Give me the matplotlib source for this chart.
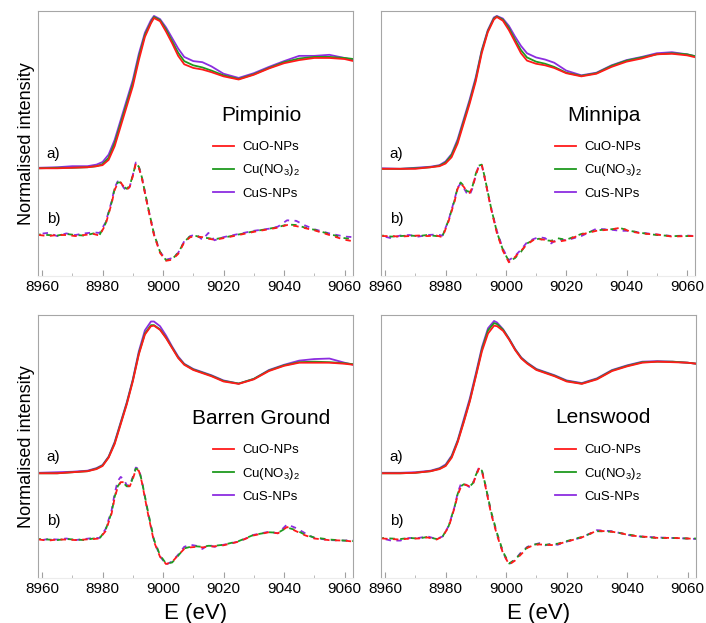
import matplotlib
matplotlib.use("Agg")
import matplotlib.pyplot as plt
from matplotlib.ticker import MultipleLocator

plt.rcParams['font.family'] = ['Liberation Sans', 'DejaVu Sans']
plt.rcParams['mathtext.default'] = 'regular'

# energy grids (eV)
e_a = [8959, 8965, 8970, 8975, 8978, 8980, 8982, 8984, 8986, 8988, 8990, 8992, 8994, 8996, 8997,
       8999, 9001, 9003, 9005, 9007, 9010, 9013, 9016, 9020, 9025, 9030, 9035, 9040, 9045, 9050,
       9055, 9060, 9063]
e_b = [8959, 8962, 8965, 8968, 8971, 8974, 8977, 8979, 8981, 8983, 8984, 8985, 8986, 8987, 8988,
       8989, 8990, 8991, 8992, 8993, 8995, 8997, 8999, 9001, 9003, 9005, 9007, 9009, 9011, 9013,
       9015, 9017, 9020, 9025, 9030, 9035, 9038, 9041, 9044, 9047, 9050, 9055, 9060, 9063]

sites = ["Pimpinio", "Minnipa", "Barren Ground", "Lenswood"]
series_names = ["CuO-NPs", "Cu(NO$_3$)$_2$", "CuS-NPs"]

# a) normalised XANES, b) first derivative  (CuO, Cu(NO3)2, CuS)
pim_cuo_a = [0, 0, 0.005, 0.01, 0.02, 0.03, 0.08, 0.21, 0.40, 0.59, 0.78, 1.03, 1.25, 1.38, 1.43, 1.40, 1.30,
             1.19, 1.07, 0.99, 0.955, 0.94, 0.915, 0.875, 0.845, 0.89, 0.95, 1.00, 1.03, 1.05, 1.05, 1.04, 1.02]
pim_cuno3_a = [0, 0.005, 0.005, 0.01, 0.02, 0.04, 0.10, 0.24, 0.43, 0.62, 0.81, 1.06, 1.27, 1.39, 1.44, 1.41, 1.32,
               1.21, 1.10, 1.02, 0.98, 0.96, 0.93, 0.885, 0.85, 0.895, 0.955, 1.01, 1.045, 1.06, 1.06, 1.05, 1.04]
pim_cus_a = [0.005, 0.01, 0.02, 0.02, 0.035, 0.06, 0.13, 0.27, 0.46, 0.65, 0.84, 1.09, 1.29, 1.41, 1.45, 1.42, 1.34,
             1.24, 1.14, 1.06, 1.02, 1.01, 0.97, 0.90, 0.86, 0.905, 0.965, 1.02, 1.07, 1.07, 1.08, 1.05, 1.03]
pim_cuo_b = [0.0, -0.01, 0.0, 0.0, -0.01, 0.0, 0.01, -0.005, 0.10, 0.30, 0.43, 0.49, 0.50, 0.46, 0.43, 0.46, 0.56,
             0.68, 0.64, 0.54, 0.26, 0.0, -0.17, -0.245, -0.235, -0.18, -0.07, -0.02, -0.015, -0.02, -0.035, -0.045,
             -0.03, 0.0, 0.03, 0.055, 0.07, 0.095, 0.085, 0.065, 0.045, 0.0, -0.045, -0.06]
pim_cuno3_b = [0.005, 0.0, -0.005, 0.01, 0.0, -0.005, 0.015, 0.0, 0.11, 0.31, 0.44, 0.50, 0.50, 0.46, 0.44, 0.47, 0.57,
               0.68, 0.65, 0.55, 0.27, 0.01, -0.16, -0.24, -0.23, -0.17, -0.065, -0.01, -0.01, -0.025, -0.03, -0.04,
               -0.025, 0.005, 0.035, 0.06, 0.075, 0.10, 0.095, 0.07, 0.05, 0.01, -0.03, -0.04]
pim_cus_b = [0.01, 0.02, -0.01, 0.015, 0.0, 0.015, 0.025, 0.02, 0.12, 0.32, 0.45, 0.51, 0.50, 0.45, 0.42, 0.46, 0.57,
             0.69, 0.65, 0.55, 0.27, 0.01, -0.16, -0.235, -0.22, -0.17, -0.06, -0.01, 0.005, -0.045, 0.02, -0.05,
             -0.02, 0.01, 0.04, 0.06, 0.08, 0.14, 0.135, 0.09, 0.055, 0.015, -0.015, -0.02]

min_cuo_a = [0, 0, 0, 0.015, 0.025, 0.05, 0.11, 0.24, 0.43, 0.62, 0.83, 1.10, 1.30, 1.42, 1.445, 1.41, 1.32,
             1.21, 1.10, 1.03, 1.00, 0.985, 0.96, 0.91, 0.88, 0.905, 0.97, 1.02, 1.05, 1.09, 1.095, 1.08, 1.06]
min_cuno3_a = [0, 0, 0.005, 0.015, 0.03, 0.06, 0.13, 0.26, 0.45, 0.64, 0.85, 1.12, 1.31, 1.43, 1.45, 1.42, 1.34,
               1.23, 1.13, 1.06, 1.02, 1.0, 0.97, 0.915, 0.885, 0.91, 0.98, 1.03, 1.06, 1.09, 1.10, 1.09, 1.07]
min_cus_a = [0.005, 0.0, 0.01, 0.02, 0.035, 0.07, 0.14, 0.28, 0.47, 0.66, 0.87, 1.13, 1.32, 1.44, 1.455, 1.43, 1.36,
             1.26, 1.17, 1.10, 1.06, 1.04, 1.01, 0.935, 0.89, 0.915, 0.985, 1.035, 1.065, 1.10, 1.11, 1.09, 1.07]
min_cuo_b = [0.0, 0.0, -0.005, 0.0, 0.005, 0.0, 0.005, -0.01, 0.14, 0.33, 0.45, 0.50, 0.47, 0.43, 0.41, 0.47, 0.58,
             0.66, 0.68, 0.55, 0.27, 0.03, -0.14, -0.25, -0.20, -0.14, -0.08, -0.04, -0.03, -0.035, -0.05, -0.055,
             -0.04, 0.015, 0.05, 0.063, 0.08, 0.045, 0.03, 0.02, 0.015, -0.005, 0.0, 0.0]
min_cuno3_b = [0.005, -0.005, 0.0, 0.005, 0.0, 0.01, 0.0, 0.0, 0.15, 0.34, 0.46, 0.51, 0.48, 0.43, 0.42, 0.48, 0.59,
               0.67, 0.68, 0.56, 0.28, 0.04, -0.13, -0.24, -0.21, -0.15, -0.07, -0.04, -0.025, -0.04, -0.045, -0.02,
               -0.035, 0.02, 0.055, 0.065, 0.075, 0.05, 0.035, 0.02, 0.01, 0.0, 0.0, 0.0]
min_cus_b = [0.0, -0.02, 0.005, 0.01, -0.005, 0.01, 0.015, 0.005, 0.15, 0.35, 0.46, 0.50, 0.46, 0.41, 0.39, 0.46, 0.58,
             0.67, 0.68, 0.55, 0.28, 0.05, -0.12, -0.23, -0.19, -0.13, -0.06, -0.03, -0.01, -0.02, -0.07, -0.03,
             -0.04, 0.0, 0.07, 0.06, 0.05, 0.05, 0.035, 0.025, 0.015, 0.0, 0.005, 0.0]

bar_cuo_a = [0, 0.0, 0.01, 0.02, 0.04, 0.07, 0.15, 0.28, 0.47, 0.66, 0.88, 1.14, 1.33, 1.41, 1.415, 1.375, 1.295,
             1.20, 1.105, 1.04, 0.99, 0.96, 0.93, 0.88, 0.857, 0.90, 0.98, 1.03, 1.06, 1.06, 1.06, 1.05, 1.04]
bar_cuno3_a = [0, 0.0, 0.01, 0.02, 0.045, 0.075, 0.155, 0.29, 0.48, 0.67, 0.89, 1.15, 1.34, 1.42, 1.42, 1.38, 1.30,
               1.205, 1.11, 1.045, 0.995, 0.965, 0.935, 0.885, 0.86, 0.905, 0.985, 1.035, 1.065, 1.07, 1.065, 1.055, 1.045]
bar_cus_a = [0.005, 0.01, 0.015, 0.025, 0.05, 0.08, 0.16, 0.30, 0.49, 0.68, 0.90, 1.17, 1.37, 1.455, 1.455, 1.41, 1.32,
             1.215, 1.12, 1.05, 1.0, 0.97, 0.94, 0.89, 0.86, 0.905, 0.99, 1.04, 1.08, 1.095, 1.10, 1.06, 1.04]
bar_cuo_b = [0.0, -0.01, 0.0, 0.0, -0.005, 0.0, 0.005, 0.01, 0.08, 0.25, 0.40, 0.50, 0.55, 0.55, 0.52, 0.51, 0.58,
             0.67, 0.66, 0.55, 0.25, -0.02, -0.165, -0.235, -0.215, -0.15, -0.09, -0.075, -0.07, -0.075, -0.07, -0.065,
             -0.055, -0.02, 0.04, 0.07, 0.06, 0.12, 0.08, 0.04, 0.01, -0.006, -0.01, -0.02]
bar_cuno3_b = [0.005, 0.0, -0.005, 0.005, 0.0, -0.005, 0.01, 0.01, 0.09, 0.26, 0.41, 0.51, 0.55, 0.54, 0.51, 0.51, 0.59,
               0.68, 0.67, 0.56, 0.27, 0.0, -0.15, -0.23, -0.22, -0.155, -0.085, -0.07, -0.065, -0.07, -0.06, -0.06,
               -0.05, -0.015, 0.045, 0.07, 0.065, 0.115, 0.09, 0.045, 0.02, 0.0, -0.01, -0.015]
bar_cus_b = [-0.01, 0.005, 0.0, 0.01, -0.005, 0.005, 0.015, 0.015, 0.10, 0.28, 0.44, 0.56, 0.60, 0.58, 0.52, 0.52, 0.60,
             0.69, 0.68, 0.56, 0.26, -0.01, -0.16, -0.24, -0.21, -0.145, -0.07, -0.05, -0.06, -0.09, -0.05, -0.07,
             -0.05, -0.02, 0.045, 0.075, 0.06, 0.145, 0.11, 0.06, 0.015, -0.005, -0.01, -0.005]

len_cuo_a = [0, 0, 0.005, 0.02, 0.04, 0.07, 0.15, 0.30, 0.49, 0.69, 0.93, 1.17, 1.34, 1.415, 1.41, 1.365, 1.28,
             1.18, 1.10, 1.05, 0.99, 0.96, 0.93, 0.88, 0.857, 0.90, 0.98, 1.025, 1.06, 1.07, 1.065, 1.06, 1.05]
len_cuno3_a = [0, 0, 0.005, 0.02, 0.045, 0.075, 0.16, 0.31, 0.50, 0.70, 0.94, 1.19, 1.37, 1.44, 1.43, 1.375, 1.285,
               1.185, 1.105, 1.055, 0.995, 0.965, 0.935, 0.885, 0.86, 0.905, 0.985, 1.03, 1.065, 1.07, 1.07, 1.06, 1.05]
len_cus_a = [0.005, 0.005, 0.01, 0.025, 0.05, 0.085, 0.17, 0.32, 0.52, 0.72, 0.96, 1.21, 1.39, 1.46, 1.445, 1.38, 1.29,
             1.19, 1.11, 1.06, 1.0, 0.97, 0.94, 0.89, 0.865, 0.91, 0.99, 1.035, 1.07, 1.075, 1.07, 1.06, 1.05]
len_cuo_b = [0.0, -0.005, -0.01, 0.0, 0.0, 0.01, -0.01, 0.02, 0.11, 0.30, 0.42, 0.49, 0.52, 0.51, 0.50, 0.52, 0.60,
             0.67, 0.64, 0.52, 0.24, 0.03, -0.145, -0.25, -0.21, -0.15, -0.09, -0.065, -0.057, -0.06, -0.063, -0.055,
             -0.03, 0.01, 0.075, 0.065, 0.05, 0.03, 0.02, 0.015, 0.006, 0.006, 0.0, -0.005]
len_cuno3_b = [0.005, 0.0, -0.005, 0.005, 0.0, 0.015, -0.005, 0.02, 0.12, 0.31, 0.43, 0.50, 0.52, 0.51, 0.50, 0.53, 0.61,
               0.67, 0.65, 0.53, 0.26, 0.05, -0.13, -0.24, -0.20, -0.14, -0.085, -0.06, -0.05, -0.06, -0.055, -0.05,
               -0.025, 0.015, 0.07, 0.065, 0.05, 0.035, 0.02, 0.01, 0.005, 0.005, 0.0, 0.0]
len_cus_b = [0.0, -0.02, -0.02, 0.005, 0.005, 0.02, -0.005, 0.02, 0.12, 0.31, 0.44, 0.52, 0.53, 0.51, 0.49, 0.52, 0.61,
             0.68, 0.65, 0.53, 0.25, 0.04, -0.14, -0.245, -0.20, -0.13, -0.08, -0.06, -0.045, -0.065, -0.05, -0.06,
             -0.03, 0.01, 0.08, 0.07, 0.05, 0.03, 0.02, 0.015, 0.01, 0.005, 0.0, -0.005]

# vertical offsets of the a) and b) traces in each panel
offset_a = [1.025, 1.02, 1.005, 1.005]
offset_b = [0.39, 0.38, 0.37, 0.38]

curves_a = [(pim_cuo_a, pim_cuno3_a, pim_cus_a), (min_cuo_a, min_cuno3_a, min_cus_a),
            (bar_cuo_a, bar_cuno3_a, bar_cus_a), (len_cuo_a, len_cuno3_a, len_cus_a)]
curves_b = [(pim_cuo_b, pim_cuno3_b, pim_cus_b), (min_cuo_b, min_cuno3_b, min_cus_b),
            (bar_cuo_b, bar_cuno3_b, bar_cus_b), (len_cuo_b, len_cuno3_b, len_cus_b)]

colors = ['#ff1a1a', '#1f9a1f', '#8c2de0']
dash_offsets = [0, 2, 4]

# axes rectangles [left, bottom, width, height]
rects = [[0.054, 0.557, 0.446, 0.425], [0.540, 0.557, 0.445, 0.425],
         [0.054, 0.072, 0.446, 0.422], [0.540, 0.072, 0.446, 0.422]]
title_pos = [(0.581, 0.608), (0.592, 0.608), (0.489, 0.608), (0.554, 0.612)]
legend_x = [0.556, 0.554, 0.556, 0.552]

fig = plt.figure(figsize=(7.06, 6.23), dpi=100)

for i in range(4):
    ax = fig.add_axes(rects[i])
    handles = [None, None, None]
    for k in [2, 1, 0]:
        ya = [v + offset_a[i] for v in curves_a[i][k]]
        yb = [v + offset_b[i] for v in curves_b[i][k]]
        ln, = ax.plot(e_a, ya, color=colors[k], lw=1.3)
        handles[k] = ln
        ax.plot(e_b, yb, color=colors[k], lw=1.3, linestyle=(dash_offsets[k], (3, 3)))

    ax.set_xlim(8958.7, 9062.8)
    ax.set_ylim(0, 2.52)
    ax.set_yticks([])
    ax.xaxis.set_major_locator(MultipleLocator(20))
    ax.xaxis.set_minor_locator(MultipleLocator(10))
    ax.tick_params(axis='x', which='major', direction='in', length=4, color='#a0a0a0',
                   labelsize=11, pad=3)
    ax.tick_params(axis='x', which='minor', direction='in', length=2.5, color='#b0b0b0')
    for s in ['top', 'left', 'right']:
        ax.spines[s].set_color('#a6a6a6')
    ax.spines['bottom'].set_color('#ececec')

    ax.text(title_pos[i][0], title_pos[i][1], sites[i], transform=ax.transAxes,
            fontsize=15, ha='left', va='center')
    ax.text(0.027, 0.46, 'a)', transform=ax.transAxes, fontsize=11, ha='left', va='center')
    ax.text(0.027, 0.216, 'b)', transform=ax.transAxes, fontsize=11, ha='left', va='center')

    ax.legend(handles=handles, labels=series_names, loc='upper left',
              bbox_to_anchor=(legend_x[i], 0.51), frameon=False, fontsize=9.5,
              handlelength=1.6, handletextpad=0.6, labelspacing=0.7,
              borderpad=0, borderaxespad=0)

    if i in (0, 2):
        ax.set_ylabel('Normalised intensity', fontsize=13, labelpad=2)
    if i in (2, 3):
        ax.set_xlabel('E (eV)', fontsize=16, labelpad=5)

fig.savefig('out.png', dpi=100)
